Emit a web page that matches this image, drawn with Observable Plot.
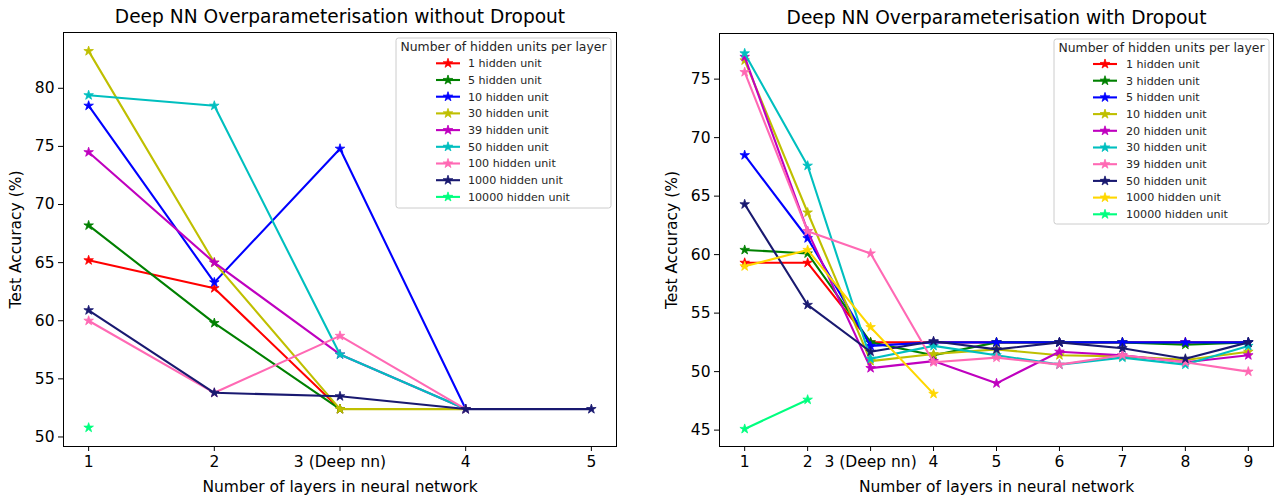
<!DOCTYPE html>
<html><head><meta charset="utf-8">
<script src="https://cdn.jsdelivr.net/npm/d3@7"></script>
<script src="https://cdn.jsdelivr.net/npm/@observablehq/plot@0.6"></script>
<style>
body{margin:0;background:#fff;font-family:"DejaVu Sans",sans-serif;}
#wrap{position:relative;width:1277px;height:497px;overflow:hidden;background:#fff}
.panel{position:absolute;top:0}
.legend{position:absolute}
</style></head><body><div id="wrap"></div>
<script>
// ---------- Left panel data (without dropout) ----------
const leftTitle = "Deep NN Overparameterisation without Dropout";
const leftLayers = [1, 2, 3, 4, 5];
const leftNames = ["1 hidden unit","5 hidden unit","10 hidden unit","30 hidden unit","39 hidden unit","50 hidden unit","100 hidden unit","1000 hidden unit","10000 hidden unit"];
const leftColors = ["#ff0000","#008000","#0000ff","#bfbf00","#bf00bf","#00bfbf","#ff69b4","#191970","#00ff7f"];
const left_u1     = [65.2, 62.8, 52.4, null, null];
const left_u5     = [68.2, 59.8, 52.4, null, null];
const left_u10    = [78.5, 63.3, 74.8, 52.4, null];
const left_u30    = [83.2, 65.0, 52.4, 52.4, null];
const left_u39    = [74.5, 65.0, 57.1, 52.4, null];
const left_u50    = [79.4, 78.5, 57.1, 52.4, null];
const left_u100   = [60.0, 53.8, 58.7, 52.4, null];
const left_u1000  = [60.9, 53.8, 53.5, 52.4, 52.4];
const left_u10000 = [50.8, null, null, null, null];
const leftYTicks = [50, 55, 60, 65, 70, 75, 80];

// ---------- Right panel data (with dropout) ----------
const rightTitle = "Deep NN Overparameterisation with Dropout";
const rightLayers = [1, 2, 3, 4, 5, 6, 7, 8, 9];
const rightNames = ["1 hidden unit","3 hidden unit","5 hidden unit","10 hidden unit","20 hidden unit","30 hidden unit","39 hidden unit","50 hidden unit","1000 hidden unit","10000 hidden unit"];
const rightColors = ["#ff0000","#008000","#0000ff","#bfbf00","#bf00bf","#00bfbf","#ff69b4","#191970","#ffd700","#00ff7f"];
const right_u1     = [59.3, 59.3, 52.5, 52.5, 52.5, 52.5, 52.5, 52.5, 52.5];
const right_u3     = [60.4, 60.1, 52.5, 51.4, 52.5, 52.5, 52.5, 52.3, 52.5];
const right_u5     = [68.5, 61.4, 52.2, 52.5, 52.5, 52.5, 52.5, 52.5, 52.5];
const right_u10    = [76.6, 63.6, 50.9, 51.5, 51.9, 51.4, 51.3, 51.0, 51.7];
const right_u20    = [76.9, 62.0, 50.3, 50.9, 49.0, 51.7, 51.4, 50.8, 51.4];
const right_u30    = [77.2, 67.6, 51.1, 52.2, 51.4, 50.6, 51.2, 50.6, 52.2];
const right_u39    = [75.6, 62.0, 60.1, 50.8, 51.2, 50.6, 51.4, 50.8, 50.0];
const right_u50    = [64.3, 55.7, 51.7, 52.6, 51.9, 52.5, 52.0, 51.1, 52.5];
const right_u1000  = [59.0, 60.4, 53.8, 48.1, null, null, null, null, null];
const right_u10000 = [45.1, 47.6, null, null, null, null, null, null, null];
const rightYTicks = [45, 50, 55, 60, 65, 70, 75];

const xLabel = "Number of layers in neural network";
const yLabel = "Test Accuracy (%)";
const legendTitle = "Number of hidden units per layer";
const fmtLayer = d => d === 3 ? "3 (Deep nn)" : String(d);

function toRows(layers, values, name) {
  return layers.map((l, i) => ({layer: l, acc: values[i], name})).filter(d => d.acc != null);
}

function panel({title, layers, names, colors, series, yTicks, xDomain, yDomain, width, margins}) {
  const marks = [];
  series.forEach((vals, i) => {
    const rows = toRows(layers, vals, names[i]);
    marks.push(Plot.line(rows, {x: "layer", y: "acc", stroke: colors[i], strokeWidth: 2.1}));
    marks.push(Plot.dot(rows, {x: "layer", y: "acc", symbol: "star", r: 3, fill: colors[i], stroke: colors[i], strokeWidth: 0.8}));
  });
  return Plot.plot({
    width, height: 497,
    marginLeft: margins[0], marginRight: margins[1], marginTop: margins[2], marginBottom: margins[3],
    style: {fontFamily: "DejaVu Sans", fontSize: "15.5px", color: "#000", background: "#fff"},
    x: {domain: xDomain},
    y: {domain: yDomain},
    marks: [
      Plot.axisX(layers, {tickSize: 5, tickPadding: 4, tickFormat: fmtLayer, fontSize: 15.5, label: xLabel, labelAnchor: "center", labelArrow: "none", labelOffset: 45}),
      Plot.axisY(yTicks, {tickSize: 5, tickPadding: 4, fontSize: 15.5, label: yLabel, labelAnchor: "center", labelArrow: "none", labelOffset: 54}),
      ...marks,
      Plot.frame({stroke: "#000", strokeWidth: 1}),
      Plot.text([title], {frameAnchor: "top", dy: -15, fontSize: 18.6, lineAnchor: "middle", fill: "#000"})
    ]
  });
}

function legend(names, colors, box) {
  const svg = d3.create("svg").attr("class", "legend")
    .attr("width", box.w + 2).attr("height", box.h + 2)
    .style("left", (box.x - 1) + "px").style("top", (box.y - 1) + "px");
  svg.append("rect").attr("x", 1).attr("y", 1).attr("width", box.w).attr("height", box.h)
    .attr("rx", 2.5).attr("fill", "#fff").attr("fill-opacity", 0.8).attr("stroke", "#cccccc").attr("stroke-width", 1);
  svg.append("text").attr("x", 1 + box.w / 2).attr("y", 1 + box.titleY).attr("dy", "0.35em")
    .attr("text-anchor", "middle").attr("font-family", "DejaVu Sans").attr("font-size", 12.4).attr("fill", "#262626").text(legendTitle);
  const star = d3.symbol(d3.symbolStar, 3 * 3 * Math.PI);
  names.forEach((n, i) => {
    const y = 1 + box.firstY + i * 16.7;
    const g = svg.append("g");
    g.append("line").attr("x1", 1 + box.lineX).attr("x2", 1 + box.lineX + 24).attr("y1", y).attr("y2", y)
      .attr("stroke", colors[i]).attr("stroke-width", 2.1);
    g.append("path").attr("d", star()).attr("transform", `translate(${1 + box.lineX + 12},${y})`)
      .attr("fill", colors[i]).attr("stroke", colors[i]).attr("stroke-width", 0.8);
    g.append("text").attr("x", 1 + box.textX).attr("y", y).attr("dy", "0.35em")
      .attr("font-family", "DejaVu Sans").attr("font-size", 11.1).attr("fill", "#262626").text(n);
  });
  return svg.node();
}

const wrap = document.getElementById("wrap");
const p1 = panel({
  title: leftTitle, layers: leftLayers, names: leftNames, colors: leftColors,
  series: [left_u1, left_u5, left_u10, left_u30, left_u39, left_u50, left_u100, left_u1000, left_u10000],
  yTicks: leftYTicks, xDomain: [0.8, 5.2], yDomain: [49.18, 84.8], width: 640, margins: [63, 24, 32, 51]
});
p1.classList.add("panel"); p1.style.left = "0px"; wrap.appendChild(p1);

const p2 = panel({
  title: rightTitle, layers: rightLayers, names: rightNames, colors: rightColors,
  series: [right_u1, right_u3, right_u5, right_u10, right_u20, right_u30, right_u39, right_u50, right_u1000, right_u10000],
  yTicks: rightYTicks, xDomain: [0.6, 9.4], yDomain: [43.6, 78.9], width: 637, margins: [79, 4, 33, 51]
});
p2.classList.add("panel"); p2.style.left = "640px"; wrap.appendChild(p2);

wrap.appendChild(legend(leftNames, leftColors, {x: 396, y: 38, w: 215, h: 170, titleY: 8.7, firstY: 25.3, lineX: 40, textX: 72}));
wrap.appendChild(legend(rightNames, rightColors, {x: 1054, y: 39, w: 215, h: 185, titleY: 8.3, firstY: 25, lineX: 39, textX: 72}));
</script></body></html>
